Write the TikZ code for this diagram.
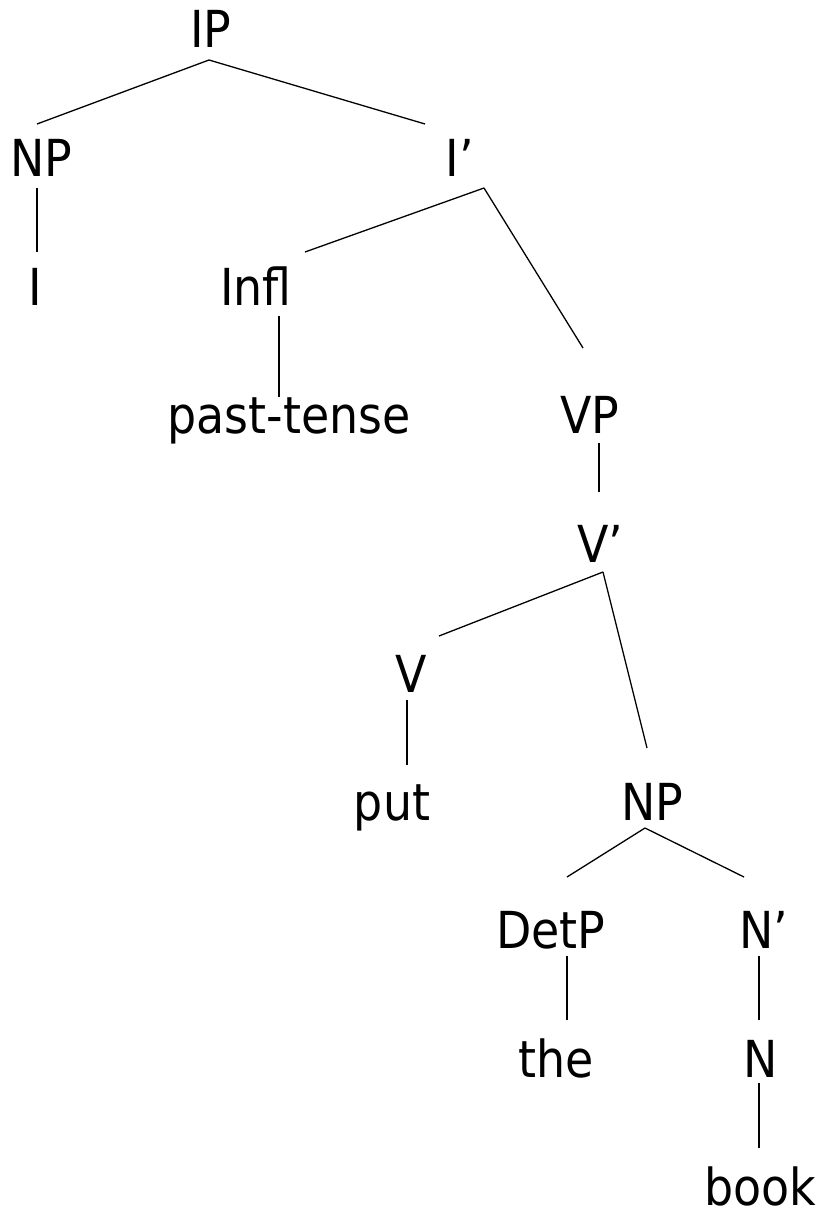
\documentclass[tikz,border=0pt]{standalone}
\usepackage{fontspec}
\setmainfont{DejaVu Sans Condensed}
\usepackage{tikz}

\begin{document}
\begin{tikzpicture}[x=1pt, y=-1pt, line width=1.3pt,
    cat/.style={inner sep=0pt, anchor=base, font=\fontsize{51}{60}\selectfont}]
      \useasboundingbox (0,0) rectangle (825,1217);
      \node[cat] (ip) at (211, 48) {IP};
      \node[cat] (np) at (41, 177) {NP};
      \node[cat] (ibar) at (460, 177) {I’};
      \node[cat] (i) at (35, 305) {I};
      \node[cat] (infl) at (256, 305) {Infl};
      \node[cat] (past) at (289, 433) {past-tense};
      \node[cat] (vp) at (590, 433) {VP};
      \node[cat] (vbar) at (600, 562) {V’};
      \node[cat] (v) at (411, 692) {V};
      \node[cat] (put) at (392, 820) {put};
      \node[cat] (np2) at (652, 820) {NP};
      \node[cat] (detp) at (551, 948) {DetP};
      \node[cat] (nbar) at (764, 948) {N’};
      \node[cat] (the) at (556, 1077) {the};
      \node[cat] (n) at (761, 1077) {N};
      \node[cat] (book) at (760, 1205) {book};
      \draw ([xshift=-2pt,yshift=-12pt]ip.base) -- ([xshift=-4pt,yshift=53pt]np.base);
      \draw ([xshift=-2pt,yshift=-12pt]ip.base) -- ([xshift=-35pt,yshift=53pt]ibar.base);
      \draw ([xshift=-4pt,yshift=-11pt]np.base) -- ([xshift=2pt,yshift=53pt]i.base);
      \draw ([xshift=24pt,yshift=-11pt]ibar.base) -- ([xshift=49pt,yshift=53pt]infl.base);
      \draw ([xshift=24pt,yshift=-11pt]ibar.base) -- ([xshift=-7pt,yshift=85pt]vp.base);
      \draw ([xshift=23pt,yshift=-11pt]infl.base) -- ([xshift=-10pt,yshift=36pt]past.base);
      \draw ([xshift=9pt,yshift=-10pt]vp.base) -- ([xshift=-1pt,yshift=70pt]vbar.base);
      \draw ([xshift=3pt,yshift=-10pt]vbar.base) -- ([xshift=28pt,yshift=56pt]v.base);
      \draw ([xshift=3pt,yshift=-10pt]vbar.base) -- ([xshift=-5pt,yshift=72pt]np2.base);
      \draw ([xshift=-4pt,yshift=-8pt]v.base) -- ([xshift=15pt,yshift=55pt]put.base);
      \draw ([xshift=-7pt,yshift=-8pt]np2.base) -- ([xshift=16pt,yshift=71pt]detp.base);
      \draw ([xshift=-7pt,yshift=-8pt]np2.base) -- ([xshift=-20pt,yshift=71pt]nbar.base);
      \draw ([xshift=16pt,yshift=-8pt]detp.base) -- ([xshift=11pt,yshift=57pt]the.base);
      \draw ([xshift=-5pt,yshift=-8pt]nbar.base) -- ([xshift=-2pt,yshift=57pt]n.base);
      \draw ([xshift=-2pt,yshift=-6pt]n.base) -- ([xshift=-1pt,yshift=57pt]book.base);
    \end{tikzpicture}
\end{document}
